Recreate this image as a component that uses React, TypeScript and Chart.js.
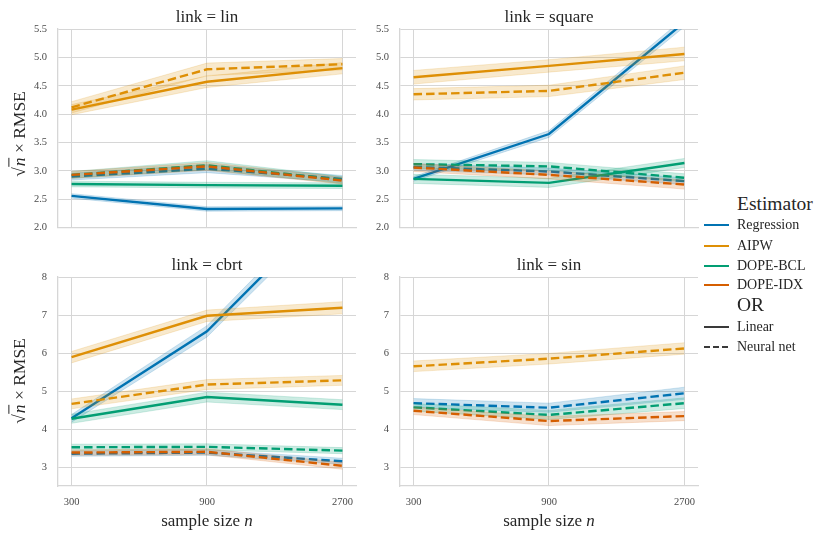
import React, { useEffect, useRef } from "react";
import { Chart, registerables } from "chart.js";

Chart.register(...registerables);

// ---------------- data ----------------
const sampleSizes = [300, 900, 2700];
const estimatorNames = ["Regression", "AIPW", "DOPE-BCL", "DOPE-IDX"];
const estimatorColors = ["#0173b2", "#de8f05", "#029e73", "#d55e00"];
const orNames = ["Linear", "Neural net"];
const topYTicks = [2.0, 2.5, 3.0, 3.5, 4.0, 4.5, 5.0, 5.5];
const bottomYTicks = [3, 4, 5, 6, 7, 8];
const panelTitles = ["link = lin", "link = square", "link = cbrt", "link = sin"];

// link = lin
const linRegLinear = [2.56, 2.33, 2.34];
const linRegLinearErr = [0.04, 0.04, 0.04];
const linRegNeural = [2.9, 3.04, 2.86];
const linRegNeuralErr = [0.06, 0.07, 0.06];
const linAipwLinear = [4.08, 4.57, 4.81];
const linAipwLinearErr = [0.09, 0.1, 0.1];
const linAipwNeural = [4.12, 4.79, 4.88];
const linAipwNeuralErr = [0.1, 0.11, 0.1];
const linBclLinear = [2.77, 2.75, 2.74];
const linBclLinearErr = [0.05, 0.05, 0.05];
const linBclNeural = [2.93, 3.1, 2.84];
const linBclNeuralErr = [0.06, 0.08, 0.06];
const linIdxNeural = [2.93, 3.08, 2.83];
const linIdxNeuralErr = [0.06, 0.07, 0.06];

// link = square
const sqRegLinear = [2.86, 3.65, 5.62];
const sqRegLinearErr = [0.04, 0.06, 0.08];
const sqRegNeural = [3.07, 2.99, 2.82];
const sqRegNeuralErr = [0.06, 0.06, 0.06];
const sqAipwLinear = [4.65, 4.85, 5.06];
const sqAipwLinearErr = [0.12, 0.11, 0.12];
const sqAipwNeural = [4.35, 4.41, 4.73];
const sqAipwNeuralErr = [0.1, 0.1, 0.12];
const sqBclLinear = [2.86, 2.79, 3.14];
const sqBclLinearErr = [0.08, 0.08, 0.08];
const sqBclNeural = [3.12, 3.08, 2.88];
const sqBclNeuralErr = [0.08, 0.07, 0.07];
const sqIdxNeural = [3.06, 2.93, 2.76];
const sqIdxNeuralErr = [0.07, 0.07, 0.08];

// link = cbrt
const cbRegLinear = [4.28, 6.57, 10.15];
const cbRegLinearErr = [0.1, 0.15, 0.2];
const cbRegNeural = [3.35, 3.38, 3.15];
const cbRegNeuralErr = [0.07, 0.07, 0.08];
const cbAipwLinear = [5.89, 6.98, 7.19];
const cbAipwLinearErr = [0.15, 0.15, 0.16];
const cbAipwNeural = [4.66, 5.17, 5.28];
const cbAipwNeuralErr = [0.13, 0.13, 0.13];
const cbBclLinear = [4.27, 4.84, 4.64];
const cbBclLinearErr = [0.12, 0.13, 0.13];
const cbBclNeural = [3.52, 3.53, 3.43];
const cbBclNeuralErr = [0.08, 0.08, 0.08];
const cbIdxNeural = [3.38, 3.4, 3.03];
const cbIdxNeuralErr = [0.07, 0.08, 0.09];

// link = sin
const sinRegNeural = [4.68, 4.56, 4.94];
const sinRegNeuralErr = [0.12, 0.12, 0.16];
const sinAipwNeural = [5.65, 5.85, 6.12];
const sinAipwNeuralErr = [0.14, 0.14, 0.15];
const sinBclNeural = [4.57, 4.37, 4.68];
const sinBclNeuralErr = [0.1, 0.12, 0.14];
const sinIdxNeural = [4.48, 4.21, 4.34];
const sinIdxNeuralErr = [0.1, 0.12, 0.12];

// ---------------- styling ----------------
const FONT = '"Liberation Serif", "DejaVu Serif", serif';
const GRID = "#d6d6d6";
const TEXT = "#262626";
const TICK = "#4a4a4a";

type Series = { est: number; dashed: boolean; mean: number[]; err: number[] };

const linSeries: Series[] = [
  { est: 0, dashed: false, mean: linRegLinear, err: linRegLinearErr },
  { est: 0, dashed: true, mean: linRegNeural, err: linRegNeuralErr },
  { est: 1, dashed: false, mean: linAipwLinear, err: linAipwLinearErr },
  { est: 1, dashed: true, mean: linAipwNeural, err: linAipwNeuralErr },
  { est: 2, dashed: false, mean: linBclLinear, err: linBclLinearErr },
  { est: 2, dashed: true, mean: linBclNeural, err: linBclNeuralErr },
  { est: 3, dashed: true, mean: linIdxNeural, err: linIdxNeuralErr },
];
const squareSeries: Series[] = [
  { est: 0, dashed: false, mean: sqRegLinear, err: sqRegLinearErr },
  { est: 0, dashed: true, mean: sqRegNeural, err: sqRegNeuralErr },
  { est: 1, dashed: false, mean: sqAipwLinear, err: sqAipwLinearErr },
  { est: 1, dashed: true, mean: sqAipwNeural, err: sqAipwNeuralErr },
  { est: 2, dashed: false, mean: sqBclLinear, err: sqBclLinearErr },
  { est: 2, dashed: true, mean: sqBclNeural, err: sqBclNeuralErr },
  { est: 3, dashed: true, mean: sqIdxNeural, err: sqIdxNeuralErr },
];
const cbrtSeries: Series[] = [
  { est: 0, dashed: false, mean: cbRegLinear, err: cbRegLinearErr },
  { est: 0, dashed: true, mean: cbRegNeural, err: cbRegNeuralErr },
  { est: 1, dashed: false, mean: cbAipwLinear, err: cbAipwLinearErr },
  { est: 1, dashed: true, mean: cbAipwNeural, err: cbAipwNeuralErr },
  { est: 2, dashed: false, mean: cbBclLinear, err: cbBclLinearErr },
  { est: 2, dashed: true, mean: cbBclNeural, err: cbBclNeuralErr },
  { est: 3, dashed: true, mean: cbIdxNeural, err: cbIdxNeuralErr },
];
const sinSeries: Series[] = [
  { est: 0, dashed: true, mean: sinRegNeural, err: sinRegNeuralErr },
  { est: 1, dashed: true, mean: sinAipwNeural, err: sinAipwNeuralErr },
  { est: 2, dashed: true, mean: sinBclNeural, err: sinBclNeuralErr },
  { est: 3, dashed: true, mean: sinIdxNeural, err: sinIdxNeuralErr },
];

function hexA(hex: string, a: number) {
  const n = parseInt(hex.slice(1), 16);
  return `rgba(${(n >> 16) & 255},${(n >> 8) & 255},${n & 255},${a})`;
}

function buildDatasets(series: Series[]) {
  const out: any[] = [];
  let k = 0;
  series.forEach((s) => {
    const c = estimatorColors[s.est];
    const pts = (vals: number[]) => sampleSizes.map((x, i) => ({ x, y: vals[i] }));
    out.push({
      data: pts(s.mean.map((m, i) => m - s.err[i])),
      borderColor: hexA(c, 0.22),
      borderWidth: 0.8,
      pointRadius: 0,
      fill: false,
      tension: 0,
      clip: 0,
      order: 1000 - k++,
    });
    out.push({
      data: pts(s.mean.map((m, i) => m + s.err[i])),
      borderColor: hexA(c, 0.22),
      borderWidth: 0.8,
      backgroundColor: hexA(c, 0.2),
      pointRadius: 0,
      fill: "-1",
      tension: 0,
      clip: 0,
      order: 1000 - k++,
    });
    out.push({
      data: pts(s.mean),
      borderColor: c,
      borderWidth: 2.4,
      borderDash: s.dashed ? [8.5, 4] : [],
      borderCapStyle: "butt",
      pointRadius: 0,
      fill: false,
      tension: 0,
      clip: 0,
      order: 1000 - k++,
    });
  });
  return out;
}

const xMin = 300 / Math.pow(3, 0.1);
const xMax = 2700 * Math.pow(3, 0.1);

type PanelProps = {
  left: number;
  top: number;
  width: number;
  height: number;
  padTop: number;
  padRight: number;
  yWidth: number;
  xHeight: number;
  showX: boolean;
  yMin: number;
  yMax: number;
  yTicks: number[];
  decimals: number;
  series: Series[];
};

function Panel(p: PanelProps) {
  const ref = useRef<HTMLCanvasElement>(null);
  useEffect(() => {
    const tickFont = { family: FONT, size: 10.5 };
    const chart = new Chart(ref.current as HTMLCanvasElement, {
      type: "line",
      data: { datasets: buildDatasets(p.series) },
      options: {
        animation: false,
        responsive: false,
        layout: { padding: { top: p.padTop, right: p.padRight, left: 0, bottom: 0 } },
        plugins: {
          legend: { display: false },
          tooltip: { enabled: false },
          title: { display: false },
        },
        scales: {
          x: {
            type: "logarithmic",
            min: xMin,
            max: xMax,
            bounds: "data",
            afterBuildTicks: (s: any) => {
              s.ticks = sampleSizes.map((v) => ({ value: v }));
            },
            afterFit: (s: any) => {
              s.height = p.xHeight;
            },
            grid: { color: GRID, lineWidth: 1, drawTicks: false },
            border: { display: true, color: GRID, width: 1.3 },
            ticks: {
              display: p.showX,
              padding: 10,
              font: tickFont,
              color: TICK,
              autoSkip: false,
              maxRotation: 0,
              callback: (v: any) => String(v),
            },
          },
          y: {
            type: "linear",
            min: p.yMin,
            max: p.yMax,
            bounds: "data",
            afterBuildTicks: (s: any) => {
              s.ticks = p.yTicks.map((v) => ({ value: v }));
            },
            afterFit: (s: any) => {
              s.width = p.yWidth;
            },
            grid: { color: GRID, lineWidth: 1, drawTicks: false },
            border: { display: true, color: GRID, width: 1.3 },
            ticks: {
              padding: 11,
              font: tickFont,
              color: TICK,
              autoSkip: false,
              callback: (v: any) => Number(v).toFixed(p.decimals),
            },
          },
        },
      } as any,
    });
    return () => chart.destroy();
  }, []);
  return (
    <canvas
      ref={ref}
      width={p.width}
      height={p.height}
      style={{ position: "absolute", left: p.left, top: p.top, width: p.width, height: p.height }}
    />
  );
}

function Label(props: { x: number; y: number; size: number; children: any; align?: string }) {
  const { x, y, size, children, align } = props;
  const tx = align === "left" ? "0" : "-50%";
  return (
    <div
      style={{
        position: "absolute",
        left: x,
        top: y,
        transform: `translate(${tx}, -50%)`,
        fontFamily: FONT,
        fontSize: size,
        color: TEXT,
        whiteSpace: "nowrap",
        lineHeight: 1,
      }}
    >
      {children}
    </div>
  );
}

function YLabel(props: { x: number; y: number }) {
  return (
    <div
      style={{
        position: "absolute",
        left: props.x,
        top: props.y,
        transform: "translate(-50%, -50%) rotate(-90deg)",
        fontFamily: FONT,
        fontSize: 17.5,
        color: TEXT,
        whiteSpace: "nowrap",
        lineHeight: 1.1,
      }}
    >
      <span>√</span>
      <span style={{ borderTop: "1px solid #262626", fontStyle: "italic", paddingLeft: 1 }}>n</span> × RMSE
    </div>
  );
}

function Swatch(props: { x: number; y: number; color: string; dashed?: boolean }) {
  return (
    <svg width={26} height={6} style={{ position: "absolute", left: props.x, top: props.y - 3 }}>
      <line
        x1={0}
        y1={3}
        x2={25}
        y2={3}
        stroke={props.color}
        strokeWidth={2}
        strokeDasharray={props.dashed ? "6 3" : undefined}
      />
    </svg>
  );
}

export default function App() {
  const legendRows = [225, 246, 266, 285];
  return (
    <div
      style={{
        position: "fixed",
        left: 0,
        top: 0,
        width: 830,
        height: 538,
        background: "#ffffff",
        overflow: "hidden",
      }}
    >
      <Panel left={0} top={0} width={370} height={245} padTop={29} padRight={14} yWidth={58} xHeight={6}
        showX={false} yMin={2.0} yMax={5.5} yTicks={topYTicks} decimals={1} series={linSeries} />
      <Panel left={370} top={0} width={340} height={245} padTop={29} padRight={12} yWidth={30} xHeight={6}
        showX={false} yMin={2.0} yMax={5.5} yTicks={topYTicks} decimals={1} series={squareSeries} />
      <Panel left={0} top={245} width={370} height={293} padTop={32} padRight={14} yWidth={58} xHeight={52}
        showX={true} yMin={2.5} yMax={8} yTicks={bottomYTicks} decimals={0} series={cbrtSeries} />
      <Panel left={370} top={245} width={340} height={293} padTop={32} padRight={12} yWidth={30} xHeight={52}
        showX={true} yMin={2.5} yMax={8} yTicks={bottomYTicks} decimals={0} series={sinSeries} />

      <Label x={207} y={16} size={17}>{panelTitles[0]}</Label>
      <Label x={549} y={16} size={17}>{panelTitles[1]}</Label>
      <Label x={207} y={264} size={17}>{panelTitles[2]}</Label>
      <Label x={549} y={264} size={17}>{panelTitles[3]}</Label>

      <YLabel x={20} y={134} />
      <YLabel x={20} y={381} />

      <Label x={207} y={520} size={17}>
        sample size <i>n</i>
      </Label>
      <Label x={549} y={520} size={17}>
        sample size <i>n</i>
      </Label>

      <Label x={737} y={204} size={19.5} align="left">Estimator</Label>
      {estimatorNames.map((name, i) => (
        <React.Fragment key={name}>
          <Swatch x={704} y={legendRows[i]} color={estimatorColors[i]} />
          <Label x={737} y={legendRows[i]} size={14} align="left">{name}</Label>
        </React.Fragment>
      ))}
      <Label x={737} y={305} size={19.5} align="left">OR</Label>
      <Swatch x={704} y={327} color="#3a3a3a" />
      <Label x={737} y={327} size={14} align="left">{orNames[0]}</Label>
      <Swatch x={704} y={347} color="#3a3a3a" dashed />
      <Label x={737} y={347} size={14} align="left">{orNames[1]}</Label>
    </div>
  );
}
